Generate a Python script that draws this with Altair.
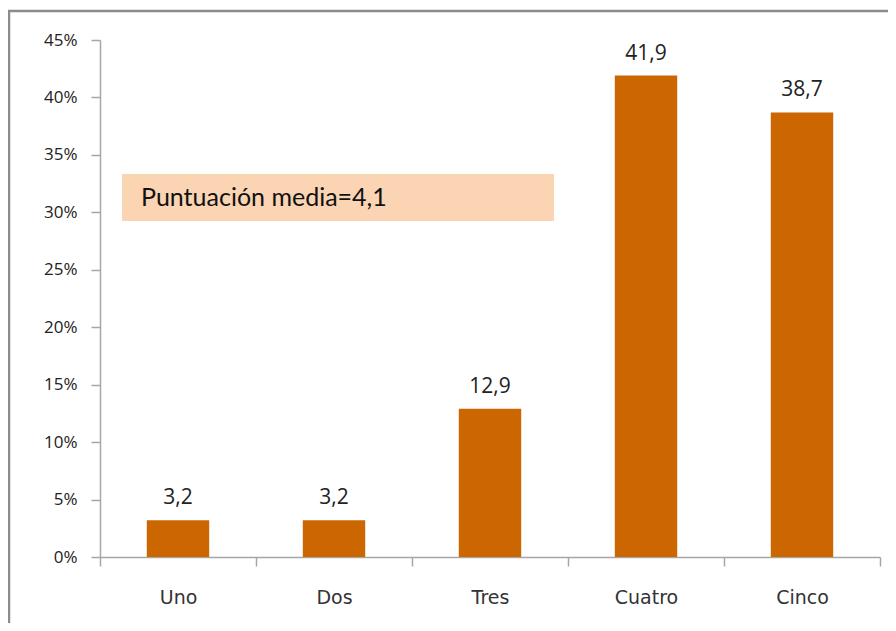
import altair as alt
import pandas as pd

categories = ["Uno", "Dos", "Tres", "Cuatro", "Cinco"]
values = [3.2, 3.2, 12.9, 41.9, 38.7]
y_ticks = [0, 5, 10, 15, 20, 25, 30, 35, 40, 45]
note_text = ["Puntuación media=4,1"]

df = pd.DataFrame({"cat": categories, "v": values})

x_enc = alt.X(
    "cat:N",
    sort=categories,
    scale=alt.Scale(paddingInner=0, paddingOuter=0),
    axis=alt.Axis(
        title=None, labelAngle=0, tickBand="extent", tickSize=9,
        labelPadding=22, labelFont="DejaVu Sans", labelFontSize=19,
        labelColor="#333333", domainColor="#A6A6A6", tickColor="#A6A6A6",
        domainWidth=1.5, tickWidth=1.5, grid=False,
    ),
)
y_scale = alt.Scale(domain=[0, 45], nice=False)
y_axis = alt.Axis(
    title=None, values=y_ticks, labelExpr="datum.value + '%'", tickSize=9,
    labelPadding=14, labelFont="Open Sans", labelFontSize=17,
    labelColor="#222222", domainColor="#A6A6A6", tickColor="#A6A6A6",
    domainWidth=1.5, tickWidth=1.5, grid=False,
)

base = alt.Chart(df).transform_calculate(
    lbl="replace(format(datum.v, '.1f'), '.', ',')"
).encode(x=x_enc)

bars = base.mark_bar(color="#CC6600", width=alt.RelativeBandSize(0.4)).encode(
    y=alt.Y("v:Q", scale=y_scale, axis=y_axis)
)
labels = base.mark_text(
    dy=-22, font="Open Sans", fontSize=21, color="#222222", baseline="middle"
).encode(y=alt.Y("v:Q", scale=y_scale, axis=y_axis), text="lbl:N")

note_df = pd.DataFrame({"t": note_text})
note_box = alt.Chart(note_df).mark_rect(color="#FAD4B3").encode(
    x=alt.value(22), x2=alt.value(454), y=alt.value(134), y2=alt.value(181)
)
note = alt.Chart(note_df).mark_text(
    align="left", baseline="middle", font="Lato", fontSize=25, color="#111111"
).encode(x=alt.value(41), y=alt.value(158), text="t:N")

border_left = alt.Chart(note_df).mark_rule(color="#8C8C8C", strokeWidth=2.5).encode(
    x=alt.value(-91), y=alt.value(-29), y2=alt.value(640)
)
border_top = alt.Chart(note_df).mark_rule(color="#8C8C8C", strokeWidth=2.5).encode(
    x=alt.value(-92), x2=alt.value(810), y=alt.value(-29)
)

chart = alt.layer(border_left, border_top, note_box, note, bars, labels).properties(
    width=780, height=517,
    padding={"left": 92, "top": 32, "right": 8, "bottom": 66},
    autosize=alt.AutoSizeParams(type="none"),
).configure_view(stroke=None)

chart.save("out.html", embed_options={"renderer": "svg", "actions": False})
